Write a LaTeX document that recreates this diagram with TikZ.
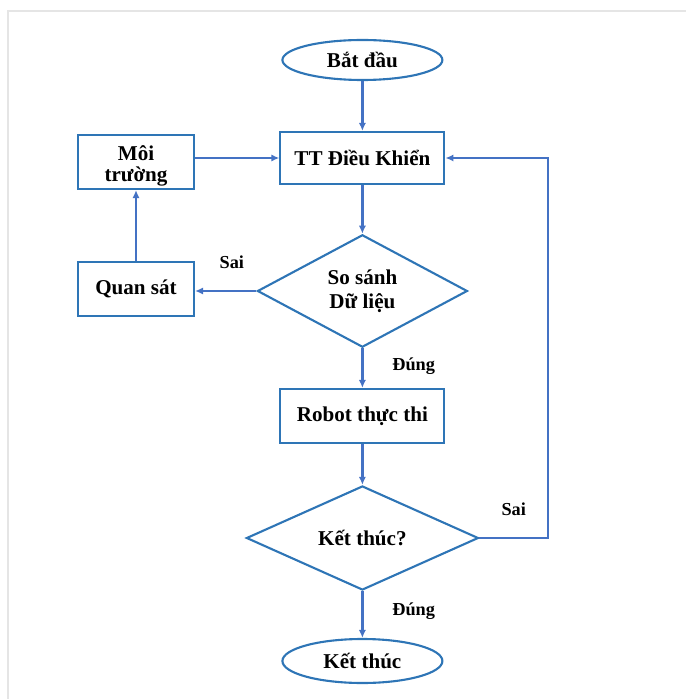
\documentclass[tikz,border=0pt]{standalone}
\usepackage{fontspec}
\setmainfont{Liberation Serif}
\usetikzlibrary{shapes.geometric,arrows.meta}
\definecolor{khung}{RGB}{46,117,182}
\definecolor{muiten}{RGB}{68,114,196}
\begin{document}
\begin{tikzpicture}[font=\fontsize{15}{18}\selectfont\bfseries,
    hop/.style={draw=khung,line width=1.5pt,rectangle,minimum width=4.1cm,minimum height=1.3cm,align=center},
    elip/.style={draw=khung,line width=1.5pt,ellipse,minimum width=4cm,minimum height=1cm},
    thoi/.style={draw=khung,line width=1.5pt,diamond,inner sep=0pt,align=center},
    nhan/.style={font=\fontsize{13}{15}\selectfont\bfseries},
    mui/.style={draw=muiten,line width=1.8pt,-{Latex[length=2mm,width=1.8mm]}}]
                \useasboundingbox (0,0) rectangle (17.15,-17.475);
                \draw[black!10,line width=0.8pt] (17.15,-0.275) -- (0.2,-0.275) -- (0.2,-17.475);
                \node[elip] (batdau) at (9.06,-1.5) {Bắt đầu};
                \node[hop] (dieukhien) at (9.06,-3.95) {TT Điều Khiển};
                \node[hop,minimum width=2.9cm,minimum height=1.35cm,inner sep=0pt] (moitruong) at (3.4,-4.05) {\rule{0pt}{16pt}Môi\\[-3pt]trường};
                \node[hop,minimum width=2.9cm,minimum height=1.35cm] (quansat) at (3.4,-7.225) {Quan sát};
                \node[thoi,minimum width=5.25cm,minimum height=2.6cm] (sosanh) at (9.06,-7.275) {So sánh\\[-1pt]Dữ liệu};
                \node[hop,minimum height=1.35cm] (robot) at (9.06,-10.4) {Robot thực thi};
                \node[thoi,minimum width=5.8cm,minimum height=2.1cm] (ketthuc) at (9.06,-13.45) {Kết thúc?};
                \node[elip,minimum height=1.1cm] (ketthucend) at (9.06,-16.525) {Kết thúc};
                \coordinate (vong) at (13.7,-13.45);
                \draw[mui] (batdau) -- (dieukhien);
                \draw[mui] (moitruong.east |- dieukhien.west) -- (dieukhien.west);
                \draw[mui] (dieukhien) -- (sosanh);
                \draw[mui] (sosanh.west) -- node[nhan,pos=0.4,above=0.4cm] {Sai} (sosanh.west -| quansat.east);
                \draw[mui] (quansat) -- (moitruong);
                \draw[mui] (sosanh.south) -- node[nhan,pos=0.45,right=0.6cm] {Đúng} (robot.north);
                \draw[mui] (robot) -- (ketthuc);
                \draw[mui] (ketthuc.east) -- node[nhan,pos=0.5,above=0.4cm] {Sai} (vong) |- (dieukhien.east);
                \draw[mui] (ketthuc.south) -- node[nhan,pos=0.43,right=0.6cm] {Đúng} (ketthucend.north);
\end{tikzpicture}
\end{document}
